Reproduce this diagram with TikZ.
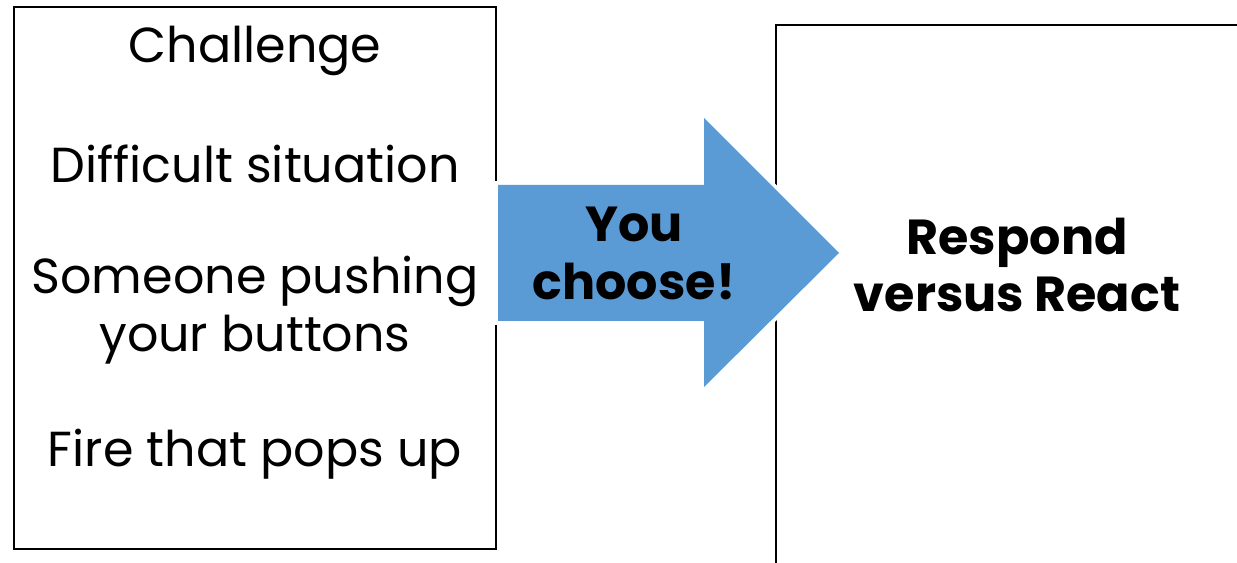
\documentclass[tikz,border=0pt]{standalone}
\usepackage{fontspec}
\setmainfont{Poppins}
\usetikzlibrary{positioning}
\definecolor{choiceblue}{HTML}{5B9BD5}
\begin{document}
\begin{tikzpicture}[x=0.02cm, y=-0.02cm,
  box/.style={draw=black, line width=1.1pt, minimum width=9.64cm, minimum height=10.84cm, inner sep=0pt},
  lbl/.style={font=\fontsize{28}{33}\selectfont, align=center, inner sep=0pt},
  bold/.style={font=\fontsize{28}{33}\selectfont\bfseries, align=center, inner sep=0pt}]
\useasboundingbox (0,0) rectangle (1237,563);
\clip (0,0) rectangle (1237,563);
\node[box] (trigger) at (255,278) {};
\node[box, minimum height=11.4cm] (outcome) at (1017,309.5) {};
\draw[white, line width=4.4pt, fill=choiceblue, line join=miter]
  (498,185) -- (704,185) -- (704,118) -- (839,253) -- (704,387) -- (704,321) -- (498,321) -- cycle;
\fill[choiceblue] (498,185) -- (704,185) -- (704,118) -- (839,253) -- (704,387) -- (704,321) -- (498,321) -- cycle;
\node[lbl] (challenge) at (255,51) {Challenge};
\node[lbl] (difficult) at (255,164) {Difficult situation};
\node[lbl] (pushing) at (255,310) {Someone pushing\\your buttons};
\node[lbl] (fire) at (255,454) {Fire that pops up};
\node[bold] (choose) at (634,253) {You\\choose!};
\node[bold] (respond) at (1017,265) {Respond\\versus React};
\end{tikzpicture}
\end{document}
